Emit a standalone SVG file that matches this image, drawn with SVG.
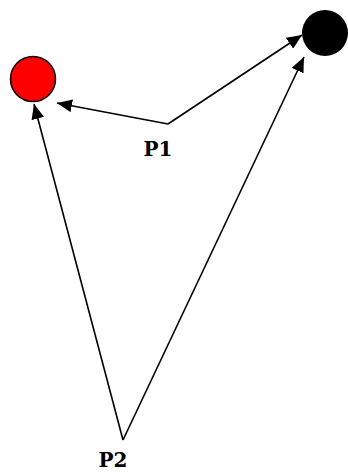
<svg xmlns="http://www.w3.org/2000/svg" width="348" height="472" viewBox="0 0 348 472">
<style>
.edge{stroke:#000;stroke-width:1.6;fill:none;marker-end:url(#arr)}
.lbl{font-family:"DejaVu Serif",serif;font-weight:bold;font-size:20px;fill:#000;text-anchor:middle}
</style>
<defs>
<marker id="arr" markerUnits="userSpaceOnUse" markerWidth="16" markerHeight="13" refX="15" refY="6.5" orient="auto">
<path d="M0,0 L15,6.5 L0,13 Z" fill="#000"/>
</marker>
</defs>
<rect width="348" height="472" fill="#fff"/>
<g id="connectors">
<path class="edge" d="M168,124 L302,35"/>
<path class="edge" d="M168,124 L57,103"/>
<path class="edge" d="M123,440 L34,104"/>
<path class="edge" d="M123,440 L304,57"/>
</g>
<g id="red"><circle cx="33" cy="79" r="22.5" fill="#f00" stroke="#000" stroke-width="1.5"/></g>
<g id="black"><circle cx="325" cy="33" r="23" fill="#000"/></g>
<g id="P1"><text class="lbl" x="158" y="156">P1</text></g>
<g id="P2"><text class="lbl" x="113" y="467">P2</text></g>
</svg>
